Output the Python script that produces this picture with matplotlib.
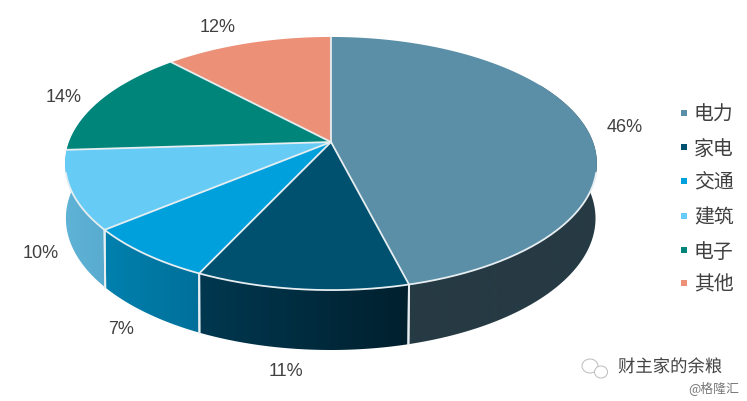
import numpy as np
import matplotlib
matplotlib.use("Agg")
import matplotlib.pyplot as plt
import matplotlib.patheffects as pe
from matplotlib.patches import Polygon, Ellipse
from matplotlib.colors import to_rgb

plt.rcParams['font.family'] = ['Noto Sans CJK SC', 'DejaVu Sans']

categories = ['电力', '家电', '交通', '建筑', '电子', '其他']
values = [46, 11, 7, 10, 14, 12]
labels = ['46%', '11%', '7%', '10%', '14%', '12%']
colors = ['#5B8FA8', '#00506F', '#00A0DC', '#66CCF5', '#00857A', '#EC9078']
wall_from = ['#263A44', '#003850', '#0080AE', '#5FB3D6']
wall_to = ['#263A44', '#00202E', '#00709A', '#55A8CC']
label_xy = [(625, 128), (286, 372), (121, 330), (41, 253), (64, 97), (218, 27)]
legend_y = [114, 148, 182, 217, 251, 284]

W, H = 747, 402
fig = plt.figure(figsize=(W/100, H/100), dpi=100)
ax = fig.add_axes([0, 0, 1, 1])
ax.set_xlim(0, W); ax.set_ylim(H, 0); ax.axis('off')

cx, cy, A, B, k = 331, 143, 262, 122.9, 0.17
edge = '#E6EEF1'

def top(t):
    w = 1 + k*np.cos(t)
    return cx + A*np.sin(t)/w, cy - B*np.cos(t)/w

def bottom(t):
    x, y = top(t)
    return cx - 0.3 + 0.996*(x - cx), cy + 1.04*(y - cy) + 54.0

angles = np.cumsum([0] + values) / sum(values) * 2*np.pi

# side walls: only slices that reach the front; first and last run on under the top face
wall_ranges = [(np.radians(60), angles[1]), (angles[1], angles[2]),
               (angles[2], angles[3]), (angles[3], np.radians(300))]
for i, (a0, a1) in enumerate(wall_ranges):
    t = np.linspace(a0, a1, 160)
    xt, yt = top(t)
    xb, yb = bottom(t)
    xs = np.r_[xt, xb[::-1]]
    ys = np.r_[yt, yb[::-1]]
    poly = Polygon(np.c_[xs, ys], closed=True, facecolor='none', edgecolor='none')
    ax.add_patch(poly)
    g = np.linspace(0, 1, 64)[None, :, None]
    c_left, c_right = np.array(to_rgb(wall_from[i])), np.array(to_rgb(wall_to[i]))
    grad = c_left*(1-g) + c_right*g
    im = ax.imshow(grad, extent=[xs.min(), xs.max(), ys.max(), ys.min()],
                   aspect='auto', zorder=2, interpolation='bilinear')
    im.set_clip_path(poly)
    for a in (a0, a1):
        if np.pi/2 < a < 1.45*np.pi:
            xa, ya = top(a); xc, yc = bottom(a)
            ax.plot([xa, xc], [ya, yc], color=edge, lw=1.4, zorder=3)
ax.set_xlim(0, W); ax.set_ylim(H, 0)

# top face: fills, then spokes, then only the front part of the rim
for i in range(len(values)):
    t = np.linspace(angles[i], angles[i+1], 200)
    xt, yt = top(t)
    ax.add_patch(Polygon(np.c_[np.r_[cx, xt], np.r_[cy, yt]], closed=True,
                         facecolor=colors[i], edgecolor='none', zorder=4))
for a in angles[:-1]:
    xa, ya = top(a)
    ax.plot([cx, xa], [cy, ya], color=edge, lw=1.3, zorder=5)
t = np.linspace(np.radians(104), np.radians(256), 300)
xr, yr = top(t)
ax.plot(xr, yr, color=edge, lw=1.3, zorder=5, solid_capstyle='round')

for (x, y), s in zip(label_xy, labels):
    ax.text(x, y, s, fontsize=13, family='Liberation Sans', color='#404040',
            ha='center', va='center', zorder=6)

for y, c, s in zip(legend_y, colors, categories):
    ax.scatter([684], [y], marker='s', s=13, color=c, linewidths=0, zorder=6)
    ax.text(694, y + 1, s, fontsize=14.3, color='#404040', ha='left', va='center', zorder=6)

# watermark
for xy, w, h in [((590, 367), 16, 14), ((601, 373), 13, 12)]:
    ax.add_patch(Ellipse(xy, w, h, facecolor='white', edgecolor='#BBBBBB', lw=0.7, zorder=6))
ax.text(618, 368, '财主家的余粮', fontsize=12.5, color='#444444', ha='left', va='center', zorder=7,
        path_effects=[pe.withStroke(linewidth=1.5, foreground='white')])
ax.text(688, 388, '@格隆汇', fontsize=9.3, color='#777777', ha='left', va='center', zorder=7)

fig.savefig('out.png', dpi=100)
